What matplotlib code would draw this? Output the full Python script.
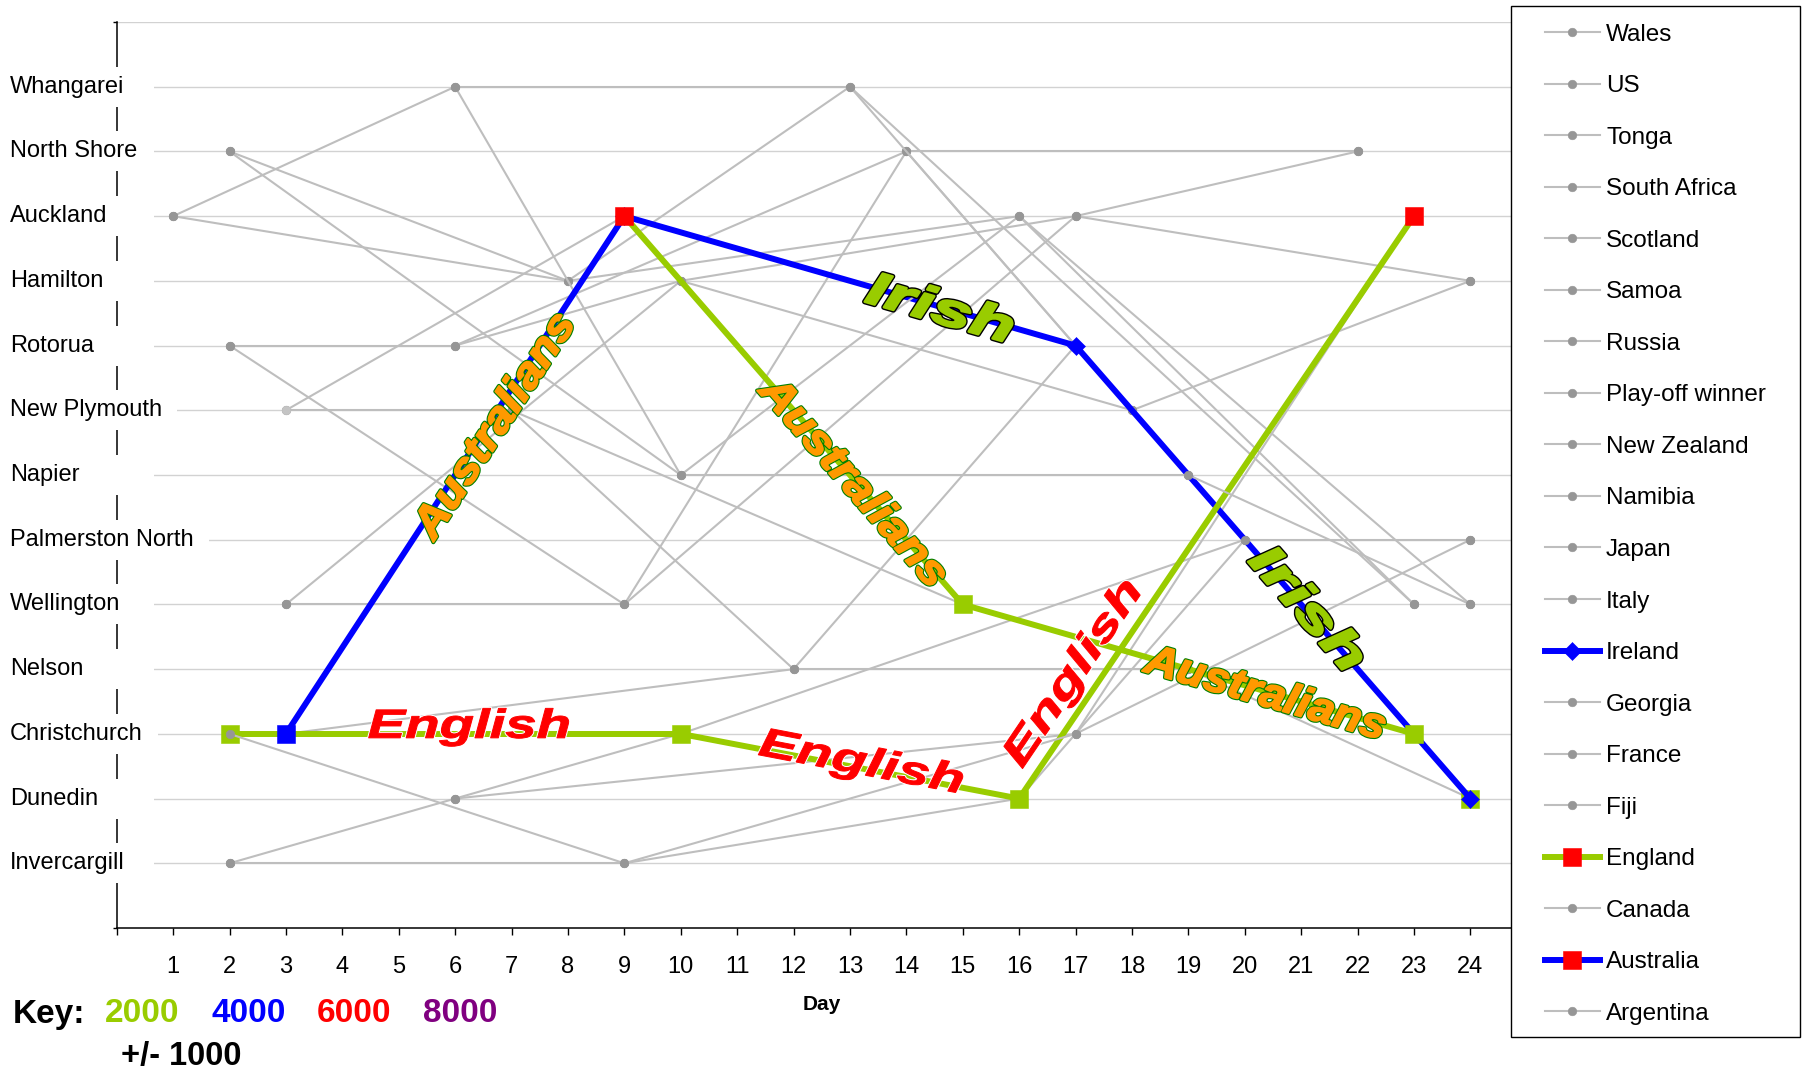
import math
import matplotlib
matplotlib.use("Agg")
import matplotlib.pyplot as plt
from matplotlib.lines import Line2D
from matplotlib.patches import PathPatch, Rectangle
from matplotlib.textpath import TextPath
from matplotlib.font_manager import FontProperties
import matplotlib.transforms as mtransforms

plt.rcParams["font.family"] = ["Liberation Sans", "DejaVu Sans"]

# ---------------------------------------------------------------- data
# Venues from south (value 1) to north (value 13)
VENUES = ["Invercargill", "Dunedin", "Christchurch", "Nelson", "Wellington",
          "Palmerston North", "Napier", "New Plymouth", "Rotorua", "Hamilton",
          "Auckland", "North Shore", "Whangarei"]
DAYS = list(range(1, 25))

# Pool fixtures per team: (day, venue)
WALES = [(3, "Wellington"), (10, "Hamilton"), (18, "New Plymouth"), (24, "Hamilton")]
US = [(3, "New Plymouth"), (7, "New Plymouth"), (15, "Wellington"), (19, "Nelson")]
TONGA = [(1, "Auckland"), (6, "Whangarei"), (13, "Whangarei"), (23, "Wellington")]
SOUTH_AFRICA = [(3, "Wellington"), (9, "Wellington"), (14, "North Shore"), (22, "North Shore")]
SCOTLAND = [(2, "Invercargill"), (6, "Dunedin"), (17, "Christchurch"), (23, "Auckland")]
SAMOA = [(6, "Rotorua"), (10, "Hamilton"), (17, "Auckland"), (22, "North Shore")]
RUSSIA = [(7, "New Plymouth"), (12, "Nelson"), (17, "Rotorua"), (23, "Christchurch")]
PLAYOFF_WINNER = [(2, "Invercargill"), (9, "Invercargill"), (16, "Dunedin"), (20, "Palmerston North")]
NEW_ZEALAND = [(1, "Auckland"), (8, "Hamilton"), (16, "Auckland"), (24, "Wellington")]
NAMIBIA = [(2, "Rotorua"), (6, "Rotorua"), (14, "North Shore"), (18, "New Plymouth")]
JAPAN = [(2, "North Shore"), (8, "Hamilton"), (13, "Whangarei"), (19, "Napier")]
ITALY = [(3, "Christchurch"), (12, "Nelson"), (19, "Nelson"), (24, "Dunedin")]
IRELAND = [(3, "New Plymouth"), (9, "Auckland"), (17, "Rotorua"), (24, "Dunedin")]
GEORGIA = [(6, "Dunedin"), (10, "Christchurch"), (20, "Palmerston North"), (24, "Palmerston North")]
FRANCE = [(2, "North Shore"), (10, "Napier"), (16, "Auckland"), (23, "Wellington")]
FIJI = [(2, "Rotorua"), (9, "Wellington"), (17, "Auckland"), (24, "Hamilton")]
ENGLAND = [(2, "Christchurch"), (10, "Christchurch"), (16, "Dunedin"), (23, "Auckland")]
CANADA = [(6, "Whangarei"), (10, "Napier"), (19, "Napier"), (24, "Wellington")]
AUSTRALIA = [(3, "Christchurch"), (9, "Auckland"), (15, "Wellington"), (23, "Christchurch")]
ARGENTINA = [(2, "Christchurch"), (9, "Invercargill"), (17, "Christchurch"), (24, "Palmerston North")]

TEAMS = [("Wales", WALES), ("US", US), ("Tonga", TONGA), ("South Africa", SOUTH_AFRICA),
         ("Scotland", SCOTLAND), ("Samoa", SAMOA), ("Russia", RUSSIA),
         ("Play-off winner", PLAYOFF_WINNER), ("New Zealand", NEW_ZEALAND),
         ("Namibia", NAMIBIA), ("Japan", JAPAN), ("Italy", ITALY), ("Ireland", IRELAND),
         ("Georgia", GEORGIA), ("France", FRANCE), ("Fiji", FIJI), ("England", ENGLAND),
         ("Canada", CANADA), ("Australia", AUSTRALIA), ("Argentina", ARGENTINA)]

# Travelling supporters on each leg between fixtures (None = not shown)
ENGLAND_FANS = [2000, 2000, 2000]
AUSTRALIA_FANS = [4000, 2000, 2000]
IRELAND_FANS = [None, 4000, 4000]
FANS = {"England": ENGLAND_FANS, "Australia": AUSTRALIA_FANS, "Ireland": IRELAND_FANS}
FAN_NAMES = {"England": "English", "Australia": "Australians", "Ireland": "Irish"}

KEY_LEVELS = [2000, 4000, 6000, 8000]
KEY_COLOURS = ["#99CC00", "#0000FF", "#FF0000", "#800080"]
KEY_SPREAD = 1000

# ---------------------------------------------------------------- styles
GREEN, BLUE, RED = "#99CC00", "#0000FF", "#FF0000"
GREY_LINE, GREY_MARK, LIGHT_MARK = "#BEBEBE", "#969696", "#C4C4C4"
GRID = "#D2D2D2"
THIN, THICK = 1.5, 4.3
SQ, DIA, DOT = 13, 9.5, 6.2

SERIES_STYLE = {
    "England": dict(color=GREEN, lw=THICK, marker="s", mcolor=RED, ms=SQ),
    "Australia": dict(color=BLUE, lw=THICK, marker="s", mcolor=RED, ms=SQ),
    "Ireland": dict(color=BLUE, lw=THICK, marker="D", mcolor=BLUE, ms=DIA),
}
DEFAULT_STYLE = dict(color=GREY_LINE, lw=THIN, marker="o", mcolor=GREY_MARK, ms=DOT)

POINT_MARKERS = {
    "England": {0: ("s", GREEN, SQ), 1: ("s", GREEN, SQ), 2: ("s", GREEN, SQ)},
    "Australia": {0: ("s", BLUE, SQ), 2: ("s", GREEN, SQ), 3: ("s", GREEN, SQ)},
    "Ireland": {0: ("o", LIGHT_MARK, DOT)},
    "Italy": {3: ("s", GREEN, SQ)},
}

# team, leg, position along leg, offset from line (px), width (px), cap height (px)
LABEL_LAYOUT = [
    ("England", 0, 0.53, 10, 200, 28),
    ("England", 1, 0.53, 8, 205, 28),
    ("England", 2, 0.19, 28, 214, 28),
    ("Australia", 0, 0.60, -4, 260, 29),
    ("Australia", 1, 0.68, 0, 263, 29),
    ("Australia", 2, 0.67, 0, 248, 29),
    ("Ireland", 1, 0.70, 0, 148, 32),
    ("Ireland", 2, 0.583, 4, 148, 32),
]
# outline colour/width under a fill-coloured stroke that thickens the letters
LABEL_STYLE = {
    "England": dict(face=RED, edge="white", outer=2.2, inner=0.7),
    "Australia": dict(face="#FF9900", edge="#008000", outer=3.0, inner=1.4),
    "Ireland": dict(face=GREEN, edge="black", outer=3.8, inner=1.8),
}

W, H = 1805, 1073
fig = plt.figure(figsize=(W / 100, H / 100), dpi=100)
ax = fig.add_axes([116.7 / W, (H - 928) / H, (1511 - 116.7) / W, (928 - 22) / H])
ax.set_xlim(0, 24.72)
ax.set_ylim(0, len(VENUES) + 1)
ax.set_autoscale_on(False)

venue_value = {name: i + 1 for i, name in enumerate(VENUES)}

# horizontal gridlines
ax.hlines(range(1, len(VENUES) + 2), 0, 24.72, color=GRID, lw=1.0, zorder=1)

for spine in ("top", "right"):
    ax.spines[spine].set_visible(False)
for spine in ("left", "bottom"):
    ax.spines[spine].set_linewidth(1.1)
    ax.spines[spine].set_color("black")

ax.set_xticks([0] + DAYS)
ax.set_xticklabels([""] + [str(d) for d in DAYS], fontsize=17)
ax.tick_params(axis="x", direction="out", length=5, width=1.0, pad=15)
ax.set_yticks(range(0, len(VENUES) + 2))
ax.set_yticklabels([])
ax.tick_params(axis="y", direction="out", length=3, width=1.0)


def leg_style(team, leg):
    fans = FANS.get(team)
    base = SERIES_STYLE.get(team, DEFAULT_STYLE)
    if fans is None:
        return base["color"], base["lw"]
    level = fans[leg]
    if level is None:
        return GREY_LINE, THIN
    return KEY_COLOURS[KEY_LEVELS.index(level)], THICK


legend_handles = []
for idx, (team, fixtures) in enumerate(TEAMS):
    z = 3 + idx * 0.02
    xs = [d for d, _ in fixtures]
    ys = [venue_value[v] for _, v in fixtures]
    base = SERIES_STYLE.get(team, DEFAULT_STYLE)
    for i in range(len(xs) - 1):
        c, lw = leg_style(team, i)
        ax.plot(xs[i:i + 2], ys[i:i + 2], color=c, lw=lw, solid_capstyle="round",
                solid_joinstyle="round", zorder=z)
    overrides = POINT_MARKERS.get(team, {})
    for i, (x, y) in enumerate(zip(xs, ys)):
        m, mc, ms = overrides.get(i, (base["marker"], base["mcolor"], base["ms"]))
        ax.plot([x], [y], linestyle="none", marker=m, ms=ms, mfc=mc, mec=mc,
                mew=0.4, zorder=z + 0.01)
    legend_handles.append(Line2D([], [], color=base["color"], lw=base["lw"],
                                 marker=base["marker"], ms=base["ms"],
                                 mfc=base["mcolor"], mec=base["mcolor"], mew=0.4))

# supporters' word-art labels along the legs
WORDART_FONT = FontProperties(family="Liberation Sans", weight="bold", style="italic")
CAP_UNIT = TextPath((0, 0), "H", size=1, prop=WORDART_FONT).get_extents().y1
fixtures_by_team = dict(TEAMS)
for team, leg, frac, offset, width, cap in LABEL_LAYOUT:
    fx = fixtures_by_team[team]
    p0 = ax.transData.transform((fx[leg][0], venue_value[fx[leg][1]]))
    p1 = ax.transData.transform((fx[leg + 1][0], venue_value[fx[leg + 1][1]]))
    ang = math.atan2(p1[1] - p0[1], p1[0] - p0[0])
    px = p0[0] + frac * (p1[0] - p0[0]) - offset * math.sin(ang)
    py = p0[1] + frac * (p1[1] - p0[1]) + offset * math.cos(ang)
    tp = TextPath((0, 0), FAN_NAMES[team], size=1, prop=WORDART_FONT)
    ext = tp.get_extents()
    tr = (mtransforms.Affine2D()
          .translate(-(ext.x0 + ext.x1) / 2, -CAP_UNIT / 2)
          .scale(width / ext.width, cap / CAP_UNIT)
          .rotate(ang)
          .translate(px, py))
    st = LABEL_STYLE[team]
    ax.add_patch(PathPatch(tp, transform=tr, facecolor=st["edge"], edgecolor=st["edge"],
                           lw=st["outer"], joinstyle="round", zorder=20, clip_on=False))
    ax.add_patch(PathPatch(tp, transform=tr, facecolor=st["face"], edgecolor=st["face"],
                           lw=st["inner"], joinstyle="round", zorder=20.1, clip_on=False))

# venue names on white panels over the axis
venue_texts = []
for name in VENUES:
    t = ax.annotate(name, xy=(10, venue_value[name]), xycoords=("figure pixels", "data"),
                    ha="left", va="center", fontsize=17, zorder=30, annotation_clip=False)
    venue_texts.append(t)

fig.canvas.draw()
renderer = fig.canvas.get_renderer()
for name, t in zip(VENUES, venue_texts):
    bb = t.get_window_extent(renderer)
    cy = ax.transData.transform((0, venue_value[name]))[1]
    right = max(154, bb.x1 + 15)
    ax.add_patch(Rectangle((0, cy - 20), right, 40, transform=mtransforms.IdentityTransform(),
                           facecolor="white", edgecolor="none", zorder=25, clip_on=False))

# x-axis title
fig.text(822 / W, 1 - 1005 / H, "Day", ha="center", va="center", fontsize=15, fontweight="bold")

# colour key for supporter numbers
fig.text(13 / W, 1 - 1014 / H, "Key:", ha="left", va="center", fontsize=24, fontweight="bold")
for i, (level, colour) in enumerate(zip(KEY_LEVELS, KEY_COLOURS)):
    fig.text((105 + i * 106) / W, 1 - 1014 / H, str(level), ha="left", va="center",
             fontsize=24, fontweight="bold", color=colour)
fig.text(121 / W, 1 - 1057 / H, f"+/- {KEY_SPREAD}", ha="left", va="center",
         fontsize=23.5, fontweight="bold")

# legend
fig.add_artist(Rectangle((1511, H - 1037), 1800 - 1511, 1031, transform=mtransforms.IdentityTransform(),
                         facecolor="white", edgecolor="black", lw=1.0, zorder=40))
leg = fig.legend(legend_handles, [t for t, _ in TEAMS], loc="upper left",
                 bbox_to_anchor=(1545 / W, 1 - 23.5 / H), frameon=False, fontsize=17.5,
                 handlelength=2.26, handletextpad=0.25, labelspacing=1.215,
                 borderpad=0, borderaxespad=0)
leg.set_zorder(41)

fig.savefig("out.png", dpi=100, facecolor="white")
